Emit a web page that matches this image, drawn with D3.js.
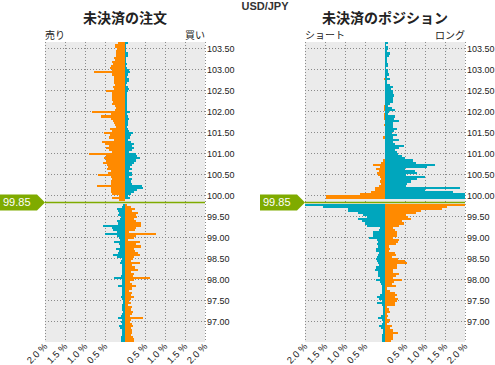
<!DOCTYPE html>
<html><head><meta charset="utf-8">
<script src="https://cdn.jsdelivr.net/npm/d3@7"></script>
<style>
html,body{margin:0;padding:0;background:#fff;}
svg{display:block;}
</style></head>
<body>
<script>
// ---------- DATA ----------
const pair = "USD/JPY";
const titles = ["未決済の注文", "未決済のポジション"];
const sideLabels = [["売り", "買い"], ["ショート", "ロング"]];
const currentPrice = 99.85;
const currentBin = 99.80;           // bin holding the current price (left empty)
const binSize = 0.05;
const topLevel = 103.60;            // levels run downward from here
const yTicks = [97.00, 97.50, 98.00, 98.50, 99.00, 99.50, 100.00, 100.50, 101.00, 101.50, 102.00, 102.50, 103.00, 103.50];
const xTicks = [-2, -1.5, -1, -0.5, 0.5, 1, 1.5, 2];

// values in % , ordered from topLevel downward (103.60, 103.55, ...)
// above current price (103.60 .. 99.85)
const orderSellAbove = [0.17,0.25,0.25,0.19,0.22,0.23,0.23,0.28,0.25,0.32,0.30,0.35,0.38,0.32,0.78,0.32,0.28,0.28,0.27,0.28,0.25,0.30,0.28,0.47,0.32,0.32,0.33,0.32,0.29,0.32,0.26,0.22,0.25,0.82,0.36,0.61,0.34,0.29,0.28,0.25,0.23,0.38,0.32,0.53,0.38,0.40,0.28,0.57,0.50,0.40,0.48,0.40,0.32,0.90,0.48,0.53,0.47,0.55,0.44,0.42,0.44,0.36,0.42,0.68,0.36,0.32,0.34,0.34,0.71,0.36,0.36,0.34,0.32,0.15,0.32,0.15];
const orderBuyAbove = [0.075,0.025,0.025,0.025,0.025,0.075,0.075,0.017,0.017,0.033,0.042,0.033,0.058,0.10,0.117,0.083,0.058,0.10,0.10,0.058,0.017,0.083,0.10,0.075,0.042,0.042,0.042,0.042,0.042,0.042,0.042,0.042,0.042,0.125,0.058,0.075,0.10,0.083,0.083,0.075,0.042,0.083,0.10,0.20,0.14,0.125,0.083,0.16,0.225,0.18,0.225,0.167,0.10,0.28,0.31,0.37,0.27,0.225,0.167,0.117,0.18,0.10,0.18,0.18,0.10,0.167,0.14,0.18,0.42,0.45,0.31,0.225,0.14,0.083,0.125,0.0];
const posShortAbove = [0,0,0,0,0,0,0,0,0,0,0,0,0,0,0,0,0,0.025,0,0,0,0,0,0,0,0,0,0,0,0,0.035,0.025,0.035,0,0.035,0.025,0.035,0,0,0.025,0,0,0,0,0,0.05,0,0,0,0,0,0,0,0,0,0,0.04,0.10,0.29,0.125,0.225,0.16,0.19,0.17,0.125,0.10,0.125,0.10,0.14,0.25,0.25,0.35,0.625,1.475,1.48,0.0];
const posLongAbove = [0.075,0.03,0.075,0.075,0.06,0.12,0.09,0.06,0.04,0.05,0.07,0.075,0.03,0.08,0.075,0.09,0.06,0.12,0.06,0.06,0.12,0.19,0.14,0.19,0.21,0.22,0.19,0.19,0.19,0.12,0.08,0.17,0.25,0.11,0.08,0.25,0.22,0.35,0.19,0.19,0.21,0.31,0.23,0.17,0.31,0.21,0.36,0.19,0.25,0.48,0.35,0.25,0.31,0.33,0.42,0.50,0.69,0.78,1.25,1.04,0.50,0.75,0.79,0.52,1.00,0.79,0.64,0.54,0.52,1.88,1.00,1.71,2.0,2.0,2.0,0.0];
// below current price (99.75 .. 96.50)
const orderSellBelow = [0.04,0.08,0.19,0.17,0.15,0.17,0.11,0.13,0.19,0.17,0.55,0.32,0.29,0.19,0.50,0.19,0.15,0.13,0.28,0.15,0.13,0.22,0.15,0.17,0.30,0.19,0.08,0.11,0.125,0.08,0.08,0.07,0.08,0.07,0.11,0.28,0.08,0.07,0.08,0.17,0.07,0.07,0.08,0.07,0.11,0.07,0.05,0.05,0.07,0.07,0.08,0.05,0.07,0.11,0.17,0.07,0.11,0.08,0.15,0.13,0.08,0.07,0.08,0.11,0.11,0.10];
const orderBuyBelow = [0.06,0.16,0.24,0.18,0.32,0.28,0.31,0.22,0.28,0.41,0.39,0.28,0.25,0.10,0.77,0.27,0.22,0.08,0.38,0.28,0.40,0.22,0.25,0.33,0.38,0.22,0.20,0.14,0.38,0.18,0.25,0.32,0.14,0.22,0.20,0.62,0.22,0.12,0.18,0.27,0.18,0.10,0.17,0.14,0.22,0.16,0.10,0.14,0.08,0.18,0.14,0.20,0.18,0.12,0.45,0.14,0.12,0.18,0.20,0.14,0.18,0.17,0.14,0.20,0.22,0.22];
const posLongBelow = [2.0,1.54,0.92,0.92,0.67,0.54,0.46,0.67,0.58,0.50,0.46,0.125,0.14,0.29,0.29,0.29,0.39,0.21,0.17,0.21,0.17,0.225,0.225,0.14,0.17,0.19,0.225,0.19,0.17,0.14,0.225,0.25,0.17,0.17,0.17,0.125,0.225,0.125,0.10,0.08,0.08,0.08,0.08,0.125,0.19,0.15,0.08,0.19,0.08,0.06,0.06,0.04,0.04,0.11,0.17,0.08,0.06,0.08,0.14,0.10,0.06,0.04,0.08,0.08,0.08,0.08];
const posShortBelow = [2.0,1.54,1.42,0.89,0.78,0.52,0.58,0.65,0.42,0.475,0.36,0.21,0.25,0.29,0.31,0.31,0.21,0.36,0.33,0.275,0.11,0.125,0.11,0.25,0.275,0.17,0.33,0.50,0.54,0.29,0.31,0.21,0.21,0.36,0.275,0.21,0.42,0.225,0.17,0.275,0.06,0.125,0.25,0.29,0.25,0.33,0.31,0.25,0.25,0.06,0.11,0.125,0.06,0.08,0.06,0.125,0.11,0.06,0.17,0.12,0.19,0.33,0.21,0.21,0.19,0.15];

// ---------- DRAW ----------
const W = 495, H = 365;
const orange = "#ff8a00", cyan = "#00a6bd", green = "#7fab00";
const svg = d3.select("body").append("svg").attr("width", W).attr("height", H)
  .style("font-family", "'Liberation Sans', Arial, sans-serif");

const y = d3.scaleLinear().domain([96.5, 103.65]).range([342, 42]);

function levelsFor(n, start) { return d3.range(n).map(i => +(start - i * binSize).toFixed(2)); }
const levelsAbove = levelsFor(orderSellAbove.length, topLevel);
const levelsBelow = levelsFor(orderSellBelow.length, +(currentBin - binSize).toFixed(2));

const panels = [
  {x0: 45, x1: 205, above: [orderSellAbove, orderBuyAbove], below: [orderSellBelow, orderBuyBelow], cx: 125},
  {x0: 305, x1: 465, above: [posShortAbove, posLongAbove], below: [posLongBelow, posShortBelow], cx: 385}
];

svg.append("text").attr("x", 265).attr("y", 10).attr("text-anchor", "middle")
  .attr("font-size", 11).attr("font-weight", "bold").attr("fill", "#333").text(pair);

panels.forEach((P, pi) => {
  const x = d3.scaleLinear().domain([-2, 2]).range([P.x0, P.x1]);
  const g = svg.append("g");
  g.append("rect").attr("x", P.x0).attr("y", 42).attr("width", P.x1 - P.x0).attr("height", 300).attr("fill", "#ebebeb");
  // grid
  g.selectAll(".vg").data([-2, ...xTicks]).join("line")
    .attr("x1", d => Math.round(x(d)) + 0.5).attr("x2", d => Math.round(x(d)) + 0.5)
    .attr("y1", 42).attr("y2", 342).attr("stroke", "#8a8a8a").attr("stroke-dasharray", "1,2");
  g.selectAll(".hg").data(yTicks).join("line")
    .attr("x1", P.x0).attr("x2", P.x1)
    .attr("y1", d => Math.round(y(d)) + 0.5).attr("y2", d => Math.round(y(d)) + 0.5)
    .attr("stroke", "#8a8a8a").attr("stroke-dasharray", "1,2");

  const bar = (vals, levels, side, color) => {
    g.append("g").attr("shape-rendering", "crispEdges")
      .selectAll("rect").data(vals.map((v, i) => ({v, p: levels[i]}))).join("rect")
      .attr("x", d => side < 0 ? x(-Math.min(d.v, 2)) : x(0))
      .attr("width", d => Math.abs(x(Math.min(d.v, 2)) - x(0)))
      .attr("y", d => y(d.p + binSize))
      .attr("height", d => y(d.p) - y(d.p + binSize))
      .attr("fill", color);
  };
  bar(P.above[0], levelsAbove, -1, orange);
  bar(P.above[1], levelsAbove, 1, cyan);
  bar(P.below[0], levelsBelow, -1, cyan);
  bar(P.below[1], levelsBelow, 1, orange);

  // current price line
  const ly = y(currentBin + binSize / 2);
  g.append("line").attr("x1", P.x0).attr("x2", P.x1).attr("y1", ly).attr("y2", ly)
    .attr("stroke", green).attr("stroke-width", 1.5);
  const lx = P.x0 - 45;
  g.append("path").attr("d", `M${lx},${ly-8}H${lx+37}L${lx+45},${ly}L${lx+37},${ly+8}H${lx}Z`).attr("fill", green);
  g.append("text").attr("x", lx + 3).attr("y", ly + 4).attr("fill", "#fff").attr("font-size", 11).text(currentPrice.toFixed(2));

  // y labels
  g.selectAll(".yl").data(yTicks).join("text")
    .attr("x", P.x1 + 2).attr("y", d => y(d) + 3.5).attr("font-size", 9).attr("fill", "#222")
    .text(d => d.toFixed(2));
  // x labels rotated
  g.selectAll(".xl").data(xTicks).join("text")
    .attr("transform", d => `translate(${x(d) + 3},${347}) rotate(-45)`)
    .attr("text-anchor", "end").attr("font-size", 9.5).attr("fill", "#222")
    .text(d => Math.abs(d).toFixed(1) + " %");

  // titles
  svg.append("text").attr("x", P.cx).attr("y", 23).attr("text-anchor", "middle")
    .attr("font-family", "'Noto Sans CJK JP', sans-serif").attr("font-weight", "bold")
    .attr("font-size", 14).attr("fill", "#222").text(titles[pi]);
  svg.append("text").attr("x", P.x0).attr("y", 39).attr("font-family", "'Noto Sans CJK JP', sans-serif")
    .attr("font-size", 10).attr("fill", "#222").text(sideLabels[pi][0]);
  svg.append("text").attr("x", P.x1).attr("y", 39).attr("text-anchor", "end").attr("font-family", "'Noto Sans CJK JP', sans-serif")
    .attr("font-size", 10).attr("fill", "#222").text(sideLabels[pi][1]);
});
</script>
</body></html>
